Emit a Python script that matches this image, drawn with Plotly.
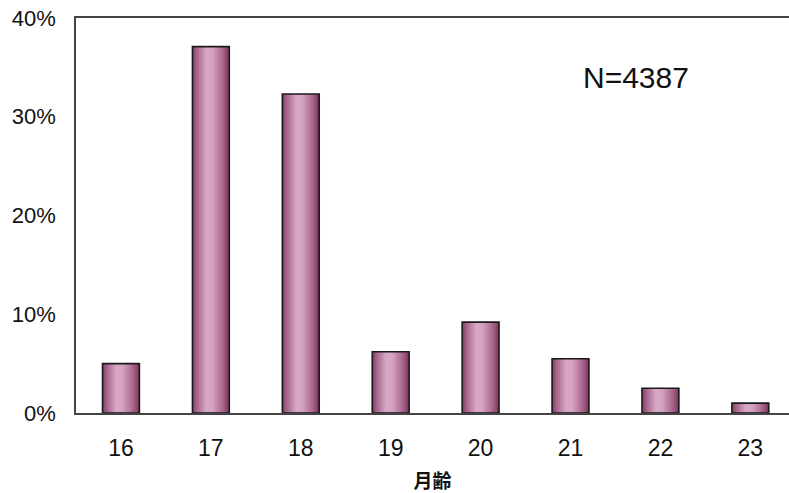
import plotly.graph_objects as go

# Age in months at which walking began, share of children (%)
months = ["16", "17", "18", "19", "20", "21", "22", "23"]
share_pct = [5.0, 37.1, 32.3, 6.2, 9.2, 5.5, 2.5, 1.0]
y_ticks = [0, 10, 20, 30, 40]
y_tick_text = ["0%", "10%", "20%", "30%", "40%"]
sample_label = "N=4387"
x_title = "月齢"

BAR_W = 0.41
N_STRIPS = 28

# Cylinder-like shading across each bar: dark rim, light core
stops = [
    (0.00, (132, 60, 100)),
    (0.12, (166, 100, 140)),
    (0.38, (216, 168, 199)),
    (0.55, (212, 162, 194)),
    (0.82, (170, 102, 142)),
    (1.00, (124, 54, 92)),
]


def shade(t):
    for (t0, c0), (t1, c1) in zip(stops, stops[1:]):
        if t0 <= t <= t1:
            f = (t - t0) / (t1 - t0)
            r, g, b = (round(a + (bb - a) * f) for a, bb in zip(c0, c1))
            return f"rgb({r},{g},{b})"
    return "rgb(124,54,92)"


fig = go.Figure()
strip_w = BAR_W / N_STRIPS
for i in range(N_STRIPS):
    t = (i + 0.5) / N_STRIPS
    fig.add_trace(go.Bar(
        x=months, y=share_pct,
        offset=-BAR_W / 2 + i * strip_w,
        width=min(strip_w * 1.6, BAR_W - i * strip_w),
        marker=dict(color=shade(t), line=dict(width=0)),
        showlegend=False, hoverinfo="skip",
    ))

# Outline of each bar
fig.add_trace(go.Bar(
    x=months, y=share_pct,
    offset=-BAR_W / 2, width=BAR_W,
    marker=dict(color="rgba(0,0,0,0)", line=dict(color="#1a1a1a", width=1.6)),
    showlegend=False,
    hovertemplate="%{x}か月: %{y}%<extra></extra>",
))

fig.add_annotation(
    text=sample_label, xref="paper", yref="paper",
    x=0.786, y=0.85, xanchor="center", yanchor="middle",
    showarrow=False,
    font=dict(family="Liberation Sans, Arial, sans-serif", size=30, color="#111"),
)

fig.update_layout(
    width=789, height=493,
    margin=dict(l=76, r=0, t=18, b=80),
    paper_bgcolor="white", plot_bgcolor="white",
    barmode="overlay",
    font=dict(family="Liberation Sans, Arial, sans-serif", color="#111", size=20),
    xaxis=dict(
        type="category", range=[-0.5, 7.43],
        showline=True, mirror=True, linecolor="#444", linewidth=1.5,
        ticks="", showgrid=False, zeroline=False,
        tickfont=dict(family="Liberation Sans, Arial, sans-serif", size=23, color="#111"),
        ticklabelstandoff=14,
        title=dict(text=x_title, standoff=19,
                   font=dict(family="Noto Sans CJK JP", size=19, color="#111", weight="bold")),
    ),
    yaxis=dict(
        range=[0, 40], tickmode="array", tickvals=y_ticks, ticktext=y_tick_text,
        showline=True, linecolor="#444", linewidth=1.5,
        ticks="", showgrid=False, zeroline=False,
        tickfont=dict(family="Liberation Sans, Arial, sans-serif", size=22, color="#111"),
        ticklabelstandoff=14,
    ),
)

fig.write_html("out.html")
